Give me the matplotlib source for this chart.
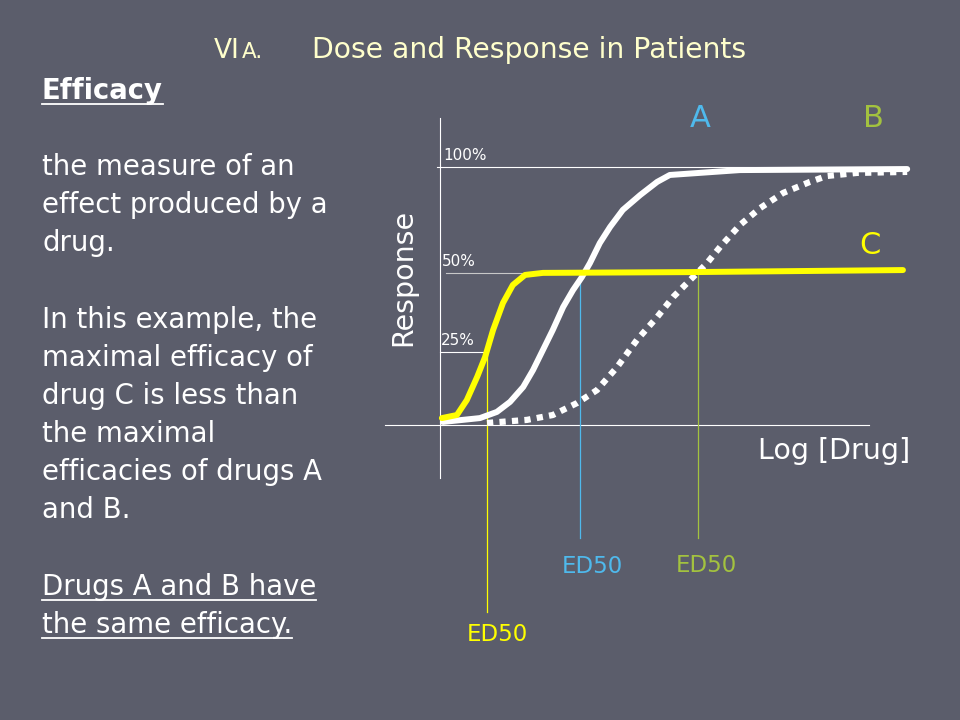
import matplotlib.pyplot as plt
from matplotlib.lines import Line2D

# log dose (arbitrary units) vs response (schematic units, 100 = full response)
dose_a = [0.06, 0.85, 1.21, 1.49, 1.77, 1.98, 2.19, 2.40, 2.62, 2.83, 3.02, 3.19,
          3.40, 3.62, 3.89, 4.26, 4.62, 4.89, 6.38, 9.94]
resp_a = [0.8, 2.3, 4.7, 8.6, 14.4, 21.0, 28.8, 36.6, 45.5, 52.1, 57.2, 62.6,
          70.4, 76.7, 83.3, 89.1, 94.2, 96.9, 98.8, 99.2]

dose_b = [1.0, 1.85, 2.40, 2.92, 3.34, 3.77, 4.19, 4.62, 4.96, 5.32, 5.68, 5.96,
          6.38, 6.81, 7.30, 7.87, 8.23, 8.87, 9.94]
resp_b = [0.4, 1.6, 3.5, 8.2, 13.2, 22.2, 32.7, 41.6, 49.4, 56.0, 62.6, 68.9,
          77.4, 84.0, 89.9, 94.2, 96.5, 97.7, 98.1]

dose_c = [0.04, 0.36, 0.57, 0.79, 0.96, 1.13, 1.34, 1.55, 1.81, 2.19, 5.32, 9.85]
resp_c = [2.3, 3.5, 9.3, 18.3, 26.1, 36.6, 47.1, 54.1, 58.0, 58.8, 59.1, 59.9]

ref_labels = ["100%", "50%", "25%"]
ref_levels = [100, 58.8, 28.0]
ed50_dose = [1.0, 2.98, 5.49]  # C, A, B

BG = "#5b5d6b"
YELLOW = "#ffff00"
BLUE = "#4fb9ec"
GREEN = "#a3c23f"
CREAM = "#ffffcc"

plt.rcParams['font.family'] = ['DejaVu Sans']

fig = plt.figure(figsize=(9.6, 7.2), dpi=100, facecolor=BG)
ax = fig.add_axes([0, 0, 1, 1])
ax.set_facecolor(BG)
ax.set_xlim(-440 / 47, 520 / 47)
ax.set_ylim((424 - 720) / 2.57, 424 / 2.57)
ax.axis('off')

# axes of the schematic
ax.plot([0, 0], [-21, 119], color="white", lw=0.8)
ax.plot([-1.17, 9.13], [-0.4, -0.4], color="white", lw=0.8)

# reference lines
ax.plot([-0.06, 9.9], [ref_levels[0]] * 2, color="white", lw=0.8)
ax.plot([0.13, 1.9], [ref_levels[1]] * 2, color="#c8c8c8", lw=0.8)
ax.plot([0, 1.0], [ref_levels[2]] * 2, color="white", lw=0.8)
ax.text(0.08, ref_levels[0] + 1.5, ref_labels[0], color="white", fontsize=11, va='bottom')
ax.text(0.04, ref_levels[1] + 1.5, ref_labels[1], color="white", fontsize=11, va='bottom')
ax.text(0.02, ref_levels[2] + 1.5, ref_labels[2], color="white", fontsize=11, va='bottom')

# ED50 drop lines
ax.plot([ed50_dose[0]] * 2, [ref_levels[2], -73.2], color=YELLOW, lw=0.9)
ax.plot([ed50_dose[1]] * 2, [ref_levels[1], -44.4], color=BLUE, lw=0.9)
ax.plot([ed50_dose[2]] * 2, [ref_levels[1], -44.4], color=GREEN, lw=0.9)

# curves
ax.plot(dose_b, resp_b, color="white", lw=4.5, linestyle=(0, (1, 1)),
        dash_capstyle='butt', dash_joinstyle='round')
ax.plot(dose_a, resp_a, color="white", lw=4.3, solid_capstyle='round', solid_joinstyle='round')
ax.plot(dose_c, resp_c, color=YELLOW, lw=4.3, solid_capstyle='round', solid_joinstyle='round')

# curve labels
ax.text(5.53, 119, "A", color=BLUE, fontsize=22, ha='center', va='center')
ax.text(9.23, 119, "B", color=GREEN, fontsize=22, ha='center', va='center')
ax.text(9.15, 69.6, "C", color=YELLOW, fontsize=22, ha='center', va='center')

ax.text(-0.78, 57, "Response", color="white", fontsize=20.5, rotation=90, ha='center', va='center')
ax.text(10.0, -10.5, "Log [Drug]", color="white", fontsize=20.5, ha='right', va='center')

ax.text(ed50_dose[0] + 0.22, -82, "ED50", color=YELLOW, fontsize=16.5, ha='center', va='center')
ax.text(ed50_dose[1] + 0.27, -55.3, "ED50", color=BLUE, fontsize=16.5, ha='center', va='center')
ax.text(ed50_dose[2] + 0.17, -55.0, "ED50", color=GREEN, fontsize=16.5, ha='center', va='center')

renderer = fig.canvas.get_renderer()

# title ("VI" + small-caps "A.")
title_base = 1 - 58 / 720
vi = fig.text(214 / 960, title_base, "VI", color=CREAM, fontsize=19, va='baseline')
vi_bb = vi.get_window_extent(renderer)
fig.text((vi_bb.x1 + 2) / 960, title_base, "A.", color=CREAM, fontsize=15.5, va='baseline')
fig.text(312 / 960, title_base, "Dose and Response in Patients", color=CREAM,
         fontsize=20.3, va='baseline')

# left column text
lines = [
    ("Efficacy", 91, True, 'bold'),
    ("the measure of an", 167, False, 'normal'),
    ("effect produced by a", 205, False, 'normal'),
    ("drug.", 243, False, 'normal'),
    ("In this example, the", 320, False, 'normal'),
    ("maximal efficacy of", 358, False, 'normal'),
    ("drug C is less than", 396, False, 'normal'),
    ("the maximal", 434, False, 'normal'),
    ("efficacies of drugs A", 472, False, 'normal'),
    ("and B.", 510, False, 'normal'),
    ("Drugs A and B have", 587, True, 'normal'),
    ("the same efficacy.", 625, True, 'normal'),
]
for txt, y, underline, weight in lines:
    t = fig.text(42 / 960, 1 - y / 720, txt, color="white", fontsize=19.8,
                 fontweight=weight, va='center')
    if underline:
        bb = t.get_window_extent(renderer)
        uy = 1 - (y + 13) / 720
        fig.add_artist(Line2D([bb.x0 / 960, bb.x1 / 960], [uy, uy],
                              transform=fig.transFigure, color="white", lw=1.3))

fig.savefig("out.png", dpi=100, facecolor=BG)
